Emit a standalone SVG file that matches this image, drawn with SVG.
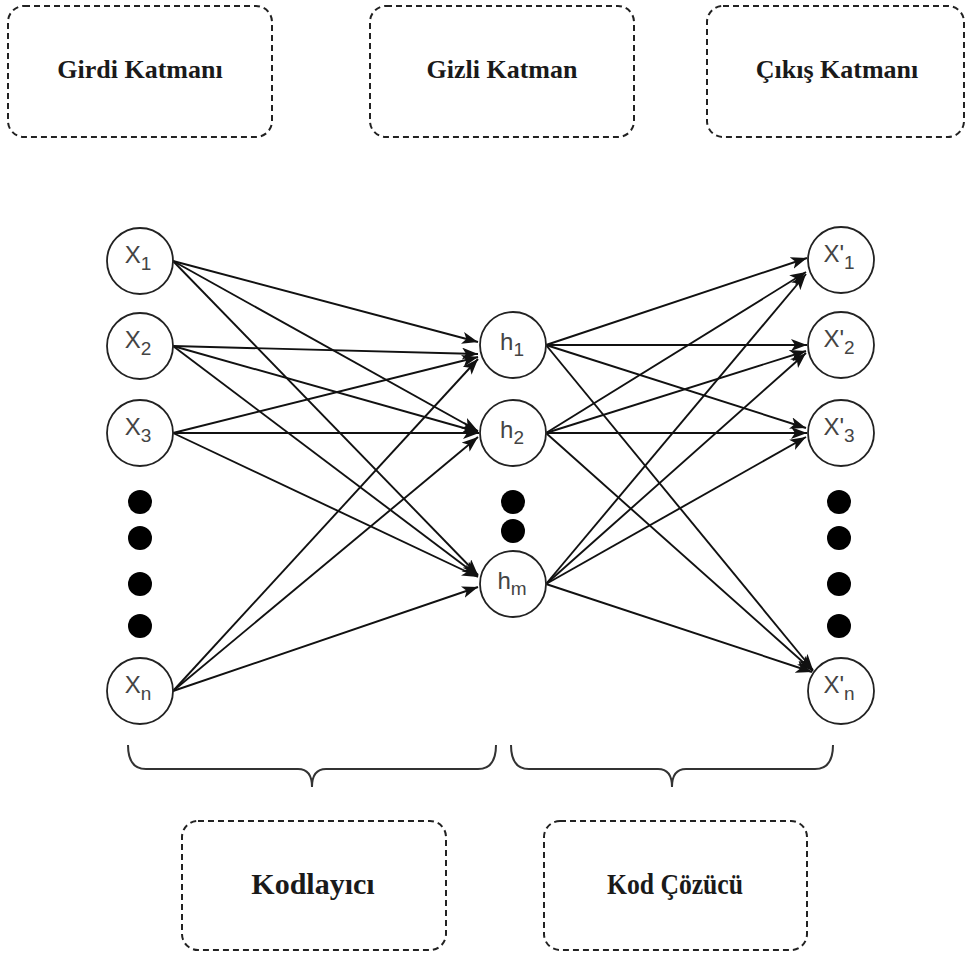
<svg xmlns="http://www.w3.org/2000/svg" width="966" height="954" viewBox="0 0 966 954">
  <defs>
    <marker id="arrow" markerUnits="userSpaceOnUse" markerWidth="17" markerHeight="13" refX="16" refY="6" orient="auto">
      <path d="M0,0 L16,6 L0,12 L4,6 z" fill="#111"/>
    </marker>
    <style>
      .box { fill: #fff; stroke: #222; stroke-width: 2; stroke-dasharray: 6 4; }
      .boxlabel { font-family: "Liberation Serif", "Times New Roman", serif; font-weight: bold; fill: #1a1a1a; text-anchor: middle; }
      .node { fill: #fff; stroke: #222; stroke-width: 1.8; }
      .nlabel { font-family: "Liberation Sans", Arial, sans-serif; font-size: 24px; fill: #444; text-anchor: middle; }
      .dot { fill: #000; }
      .edge { fill: none; stroke: #111; stroke-width: 1.9; marker-end: url(#arrow); }
      .brace { fill: none; stroke: #333; stroke-width: 2; }
    </style>
  </defs>
  <rect width="966" height="954" fill="#fff"/>

  <!-- layer titles -->
  <g id="girdi-katmani">
    <rect class="box" x="8" y="6" width="264" height="131" rx="16"/>
    <text class="boxlabel" x="140" y="78" font-size="26">Girdi Katmanı</text>
  </g>
  <g id="gizli-katman">
    <rect class="box" x="370" y="6" width="264" height="131" rx="16"/>
    <text class="boxlabel" x="502" y="78" font-size="26">Gizli Katman</text>
  </g>
  <g id="cikis-katmani">
    <rect class="box" x="707" y="6" width="257" height="131" rx="16"/>
    <text class="boxlabel" x="837" y="78" font-size="26">Çıkış Katmanı</text>
  </g>

  <!-- connectors -->
  <g id="edges">
    <!-- encoder: inputs to hidden units -->
    <line class="edge" x1="173" y1="261" x2="478" y2="342"/>
    <line class="edge" x1="173" y1="261" x2="478" y2="431"/>
    <line class="edge" x1="173" y1="261" x2="478" y2="575"/>
    <line class="edge" x1="173" y1="346" x2="478" y2="354"/>
    <line class="edge" x1="173" y1="346" x2="478" y2="432"/>
    <line class="edge" x1="173" y1="346" x2="478" y2="576"/>
    <line class="edge" x1="173" y1="433" x2="478" y2="357"/>
    <line class="edge" x1="173" y1="433" x2="479" y2="433"/>
    <line class="edge" x1="173" y1="433" x2="478" y2="577"/>
    <line class="edge" x1="173" y1="691" x2="478" y2="359"/>
    <line class="edge" x1="173" y1="691" x2="478" y2="437"/>
    <line class="edge" x1="173" y1="691" x2="478" y2="587"/>
    <!-- decoder: hidden units to outputs -->
    <line class="edge" x1="546" y1="345" x2="807" y2="258"/>
    <line class="edge" x1="546" y1="345" x2="807" y2="345"/>
    <line class="edge" x1="546" y1="345" x2="806" y2="428"/>
    <line class="edge" x1="546" y1="345" x2="813" y2="670"/>
    <line class="edge" x1="546" y1="433" x2="806" y2="272"/>
    <line class="edge" x1="546" y1="433" x2="806" y2="351"/>
    <line class="edge" x1="546" y1="433" x2="807" y2="433"/>
    <line class="edge" x1="546" y1="433" x2="813" y2="671"/>
    <line class="edge" x1="546" y1="584" x2="806" y2="274"/>
    <line class="edge" x1="546" y1="584" x2="806" y2="353"/>
    <line class="edge" x1="546" y1="584" x2="806" y2="437"/>
    <line class="edge" x1="546" y1="584" x2="812" y2="672"/>
  </g>

  <!-- input layer -->
  <g id="x1">
    <circle class="node" cx="140" cy="261" r="33"/>
    <text class="nlabel" x="138" y="263">X<tspan dy="7" font-size="19">1</tspan></text>
  </g>
  <g id="x2">
    <circle class="node" cx="140" cy="346" r="33"/>
    <text class="nlabel" x="138" y="348">X<tspan dy="7" font-size="19">2</tspan></text>
  </g>
  <g id="x3">
    <circle class="node" cx="140" cy="433" r="33"/>
    <text class="nlabel" x="138" y="435">X<tspan dy="7" font-size="19">3</tspan></text>
  </g>
  <g id="x-dots">
    <circle class="dot" cx="140" cy="502" r="12"/>
    <circle class="dot" cx="140" cy="538" r="12"/>
    <circle class="dot" cx="140" cy="584" r="12"/>
    <circle class="dot" cx="140" cy="626" r="12"/>
  </g>
  <g id="xn">
    <circle class="node" cx="140" cy="691" r="33"/>
    <text class="nlabel" x="138" y="693">X<tspan dy="7" font-size="19">n</tspan></text>
  </g>

  <!-- hidden layer -->
  <g id="h1">
    <circle class="node" cx="513" cy="345" r="33"/>
    <text class="nlabel" x="512" y="350">h<tspan dy="6" font-size="19">1</tspan></text>
  </g>
  <g id="h2">
    <circle class="node" cx="513" cy="433" r="33"/>
    <text class="nlabel" x="512" y="438">h<tspan dy="6" font-size="19">2</tspan></text>
  </g>
  <g id="h-dots">
    <circle class="dot" cx="513" cy="502" r="12"/>
    <circle class="dot" cx="513" cy="531" r="12"/>
  </g>
  <g id="hm">
    <circle class="node" cx="513" cy="584" r="33"/>
    <text class="nlabel" x="512" y="589">h<tspan dy="6" font-size="19">m</tspan></text>
  </g>

  <!-- output layer -->
  <g id="xp1">
    <circle class="node" cx="841" cy="260" r="33"/>
    <text class="nlabel" x="839" y="262">X'<tspan dy="7" font-size="19">1</tspan></text>
  </g>
  <g id="xp2">
    <circle class="node" cx="841" cy="345" r="33"/>
    <text class="nlabel" x="839" y="347">X'<tspan dy="7" font-size="19">2</tspan></text>
  </g>
  <g id="xp3">
    <circle class="node" cx="841" cy="433" r="33"/>
    <text class="nlabel" x="839" y="435">X'<tspan dy="7" font-size="19">3</tspan></text>
  </g>
  <g id="xp-dots">
    <circle class="dot" cx="839" cy="502" r="12"/>
    <circle class="dot" cx="839" cy="538" r="12"/>
    <circle class="dot" cx="839" cy="584" r="12"/>
    <circle class="dot" cx="839" cy="626" r="12"/>
  </g>
  <g id="xpn">
    <circle class="node" cx="841" cy="691" r="33"/>
    <text class="nlabel" x="839" y="693">X'<tspan dy="7" font-size="19">n</tspan></text>
  </g>

  <!-- curly braces grouping encoder / decoder -->
  <g id="braces">
    <path class="brace" d="M128,745 Q128,769 146,769 H298 Q312,769 312,787 Q312,769 326,769 H478 Q496,769 496,745"/>
    <path class="brace" d="M511,745 Q511,769 529,769 H658 Q672,769 672,787 Q672,769 686,769 H815 Q833,769 833,745"/>
  </g>

  <g id="kodlayici">
    <rect class="box" x="182" y="821" width="264" height="129" rx="16"/>
    <text class="boxlabel" x="313" y="894" font-size="30">Kodlayıcı</text>
  </g>
  <g id="kod-cozucu">
    <rect class="box" x="544" y="821" width="263" height="129" rx="16"/>
    <text class="boxlabel" x="675" y="894" font-size="30" textLength="136" lengthAdjust="spacingAndGlyphs">Kod Çözücü</text>
  </g>
</svg>
